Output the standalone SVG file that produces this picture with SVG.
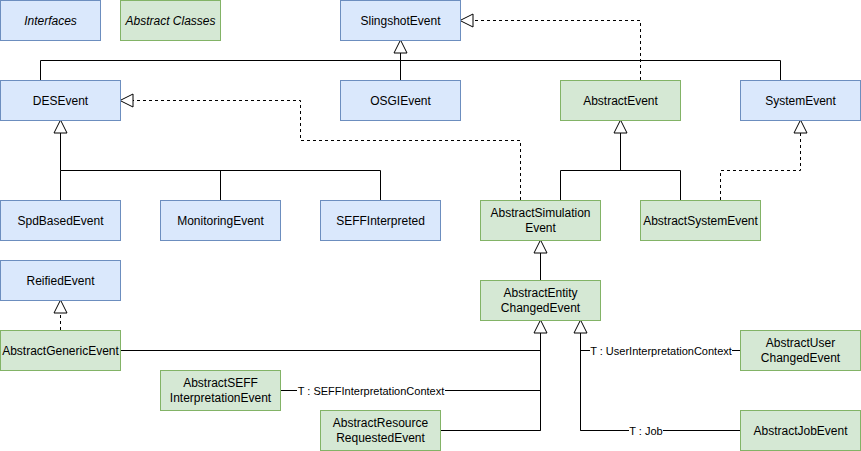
<svg xmlns="http://www.w3.org/2000/svg" width="861" height="451" viewBox="0 0 861 451">
<style>
.i rect{fill:#dae8fc;stroke:#6c8ebf;stroke-width:1}
.a rect{fill:#d5e8d4;stroke:#82b366;stroke-width:1}
text{font-family:"Liberation Sans",Arial,sans-serif;font-size:12px;fill:#000;text-anchor:middle;dominant-baseline:central}
.it{font-style:italic}
#edges path{fill:none;stroke:#000;stroke-width:1}
#edges .d{stroke-dasharray:3 3}
.lbl{font-size:11px}
.bg{fill:#fff;stroke:none}
</style>
<defs>
<marker id="tri" markerUnits="userSpaceOnUse" orient="auto" markerWidth="16" markerHeight="16" refX="14" refY="8" viewBox="0 0 16 16">
<path d="M1,1.5 L14,8 L1,14.5 Z" fill="#fff" stroke="#000" stroke-width="1"/>
</marker>
</defs>
<rect width="861" height="451" fill="#fff"/>
<g id="edges">
<path d="M40.5,80 V60.5 H780.5 V80"/>
<path d="M400.5,80 V40" marker-end="url(#tri)"/>
<path class="d" d="M640.5,80 V20.5 H460" marker-end="url(#tri)"/>
<path d="M60.5,200 V170.5 H380.5 V200 M220.5,170.5 V200"/>
<path d="M60.5,170.5 V120" marker-end="url(#tri)"/>
<path class="d" d="M520.5,200 V140.5 H300.5 V100.5 H120" marker-end="url(#tri)"/>
<path d="M560.5,200 V170.5 H680.5 V200"/>
<path d="M620.5,170.5 V120" marker-end="url(#tri)"/>
<path class="d" d="M720.5,200 V170.5 H800.5 V120" marker-end="url(#tri)"/>
<path d="M540.5,280 V240" marker-end="url(#tri)"/>
<path class="d" d="M60.5,330 V300" marker-end="url(#tri)"/>
<path d="M120,350.5 H540.5 M280,390.5 H540.5 M440,430.5 H540.5 V320"/>
<path d="M540.5,430.5 V320" marker-end="url(#tri)"/>
<path d="M740,350.5 H580.5 M740,430.5 H580.5 V320"/>
<path d="M580.5,430.5 V320" marker-end="url(#tri)"/>
<rect class="bg" x="297" y="383" width="148" height="14"/>
<text class="lbl" x="371" y="390.5">T : SEFFInterpretationContext</text>
<rect class="bg" x="590" y="343" width="142" height="14"/>
<text class="lbl" x="661" y="350.5">T : UserInterpretationContext</text>
<rect class="bg" x="629" y="423" width="34" height="14"/>
<text class="lbl" x="646" y="430.5">T : Job</text>
</g>
<g id="interfaces" class="i"><rect x="0.5" y="0.5" width="100" height="40"/><text class="it" x="50.5" y="20.5">Interfaces</text></g>
<g id="abstractClasses" class="a"><rect x="120.5" y="0.5" width="100" height="40"/><text class="it" x="170.5" y="20.5">Abstract Classes</text></g>
<g id="slingshotEvent" class="i"><rect x="340.5" y="0.5" width="120" height="40"/><text x="400.5" y="20.5">SlingshotEvent</text></g>
<g id="desEvent" class="i"><rect x="0.5" y="80.5" width="120" height="40"/><text x="60.5" y="100.5">DESEvent</text></g>
<g id="osgiEvent" class="i"><rect x="340.5" y="80.5" width="120" height="40"/><text x="400.5" y="100.5">OSGIEvent</text></g>
<g id="abstractEvent" class="a"><rect x="560.5" y="80.5" width="120" height="40"/><text x="620.5" y="100.5">AbstractEvent</text></g>
<g id="systemEvent" class="i"><rect x="740.5" y="80.5" width="120" height="40"/><text x="800.5" y="100.5">SystemEvent</text></g>
<g id="spdBasedEvent" class="i"><rect x="0.5" y="200.5" width="120" height="40"/><text x="60.5" y="220.5">SpdBasedEvent</text></g>
<g id="monitoringEvent" class="i"><rect x="160.5" y="200.5" width="120" height="40"/><text x="220.5" y="220.5">MonitoringEvent</text></g>
<g id="seffInterpreted" class="i"><rect x="320.5" y="200.5" width="120" height="40"/><text x="380.5" y="220.5">SEFFInterpreted</text></g>
<g id="abstractSimulationEvent" class="a"><rect x="480.5" y="200.5" width="120" height="40"/><text x="540.5" y="213">AbstractSimulation</text><text x="540.5" y="228">Event</text></g>
<g id="abstractSystemEvent" class="a"><rect x="640.5" y="200.5" width="120" height="40"/><text x="700.5" y="220.5">AbstractSystemEvent</text></g>
<g id="reifiedEvent" class="i"><rect x="0.5" y="260.5" width="120" height="40"/><text x="60.5" y="280.5">ReifiedEvent</text></g>
<g id="abstractEntityChangedEvent" class="a"><rect x="480.5" y="280.5" width="120" height="40"/><text x="540.5" y="293">AbstractEntity</text><text x="540.5" y="308">ChangedEvent</text></g>
<g id="abstractGenericEvent" class="a"><rect x="0.5" y="330.5" width="120" height="40"/><text x="60.5" y="350.5">AbstractGenericEvent</text></g>
<g id="abstractSEFFInterpretationEvent" class="a"><rect x="160.5" y="370.5" width="120" height="40"/><text x="220.5" y="383">AbstractSEFF</text><text x="220.5" y="398">InterpretationEvent</text></g>
<g id="abstractResourceRequestedEvent" class="a"><rect x="320.5" y="410.5" width="120" height="40"/><text x="380.5" y="423">AbstractResource</text><text x="380.5" y="438">RequestedEvent</text></g>
<g id="abstractUserChangedEvent" class="a"><rect x="740.5" y="330.5" width="120" height="40"/><text x="800.5" y="343">AbstractUser</text><text x="800.5" y="358">ChangedEvent</text></g>
<g id="abstractJobEvent" class="a"><rect x="740.5" y="410.5" width="120" height="40"/><text x="800.5" y="430.5">AbstractJobEvent</text></g>
</svg>
